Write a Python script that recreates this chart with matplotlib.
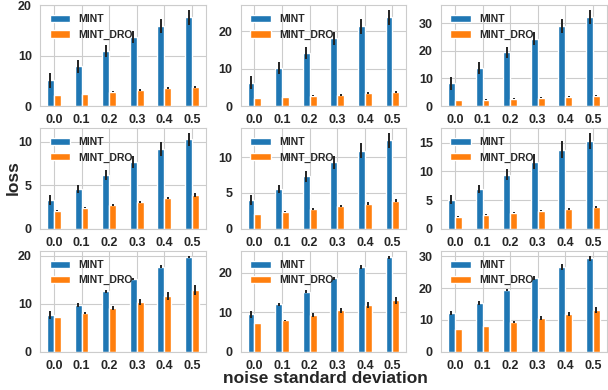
import numpy as np
import matplotlib
matplotlib.use("Agg")
from matplotlib import pyplot as plt
import seaborn as sns

# x categories (noise standard deviation)
noise_levels = ["0.0", "0.1", "0.2", "0.3", "0.4", "0.5"]
series_names = ["MINT", "MINT_DRO"]

# mean loss per panel (row-major order)
mint_mean = [
    [5.1, 7.9, 10.9, 13.7, 15.85, 17.6],
    [6.2, 10.2, 14.2, 18.1, 21.3, 23.7],
    [8.3, 13.7, 19.5, 24.4, 29.0, 32.3],
    [3.35, 4.6, 6.2, 7.7, 9.16, 10.3],
    [4.05, 5.55, 7.35, 9.27, 10.9, 12.3],
    [5.1, 7.0, 9.4, 11.7, 13.75, 15.3],
    [7.7, 9.8, 12.6, 15.2, 17.8, 19.8],
    [9.45, 12.0, 15.2, 18.5, 21.5, 23.8],
    [12.15, 15.3, 19.4, 23.1, 26.6, 29.4],
]
mint_err = [
    [1.45, 1.25, 1.15, 1.25, 1.45, 1.45],
    [1.75, 1.6, 1.6, 1.7, 2.0, 2.0],
    [2.3, 2.1, 2.0, 2.3, 2.6, 2.5],
    [0.55, 0.48, 0.6, 0.7, 0.76, 0.74],
    [0.66, 0.57, 0.76, 0.94, 1.05, 1.08],
    [0.75, 0.72, 0.95, 1.24, 1.45, 1.42],
    [0.8, 0.45, 0.4, 0.3, 0.4, 0.3],
    [0.84, 0.4, 0.3, 0.4, 0.5, 0.5],
    [0.7, 0.5, 0.35, 0.6, 0.9, 0.8],
]
dro_mean = [
    [2.24, 2.43, 2.83, 3.22, 3.62, 3.82],
    [2.2, 2.5, 2.75, 3.0, 3.55, 3.8],
    [2.26, 2.3, 2.7, 3.1, 3.45, 3.8],
    [2.09, 2.43, 2.78, 3.12, 3.57, 3.92],
    [2.11, 2.39, 2.8, 3.21, 3.49, 3.9],
    [2.14, 2.49, 2.83, 3.18, 3.53, 3.87],
    [7.27, 8.1, 9.16, 10.4, 11.7, 12.9],
    [7.28, 7.95, 9.2, 10.46, 11.7, 13.0],
    [7.1, 8.06, 9.3, 10.6, 11.8, 13.1],
]
dro_err = [
    [0.05, 0.05, 0.1, 0.15, 0.15, 0.2],
    [0.05, 0.05, 0.1, 0.2, 0.2, 0.2],
    [0.05, 0.2, 0.2, 0.25, 0.25, 0.2],
    [0.05, 0.05, 0.1, 0.1, 0.15, 0.2],
    [0.03, 0.05, 0.1, 0.15, 0.2, 0.2],
    [0.03, 0.05, 0.05, 0.1, 0.15, 0.2],
    [0.05, 0.2, 0.45, 0.55, 0.85, 1.05],
    [0.05, 0.15, 0.5, 0.6, 0.75, 0.9],
    [0.05, 0.1, 0.3, 0.5, 0.7, 0.8],
]

sns.set_style("whitegrid")
plt.rcParams["font.family"] = ["Liberation Sans", "DejaVu Sans"]
plt.rcParams["font.weight"] = "bold"

fig, axes = plt.subplots(3, 3, figsize=(6.08, 3.9), dpi=100)
fig.subplots_adjust(left=0.066, right=0.998, top=0.987, bottom=0.098,
                    wspace=0.21, hspace=0.215)

x = np.arange(len(noise_levels))
w = 0.25
for i, ax in enumerate(axes.flat):
    ax.bar(x - w / 2, mint_mean[i], w, yerr=mint_err[i], color="#1f77b4",
           ecolor="#222222", error_kw=dict(lw=1.4), label=series_names[0], zorder=2)
    ax.bar(x + w / 2, dro_mean[i], w, yerr=dro_err[i], color="#ff7f0e",
           ecolor="#222222", error_kw=dict(lw=1.4), label=series_names[1], zorder=2)
    ax.set_xlim(-0.5, len(noise_levels) - 0.5)
    ax.set_xticks(x)
    ax.set_xticklabels(noise_levels)
    ax.tick_params(labelsize=9, pad=2.5)
    ax.set_axisbelow(True)
    ax.legend(loc="upper left", frameon=False, fontsize=7.5)

fig.text(0.022, 0.544, "loss", rotation=90, fontsize=12.5, fontweight="bold",
         ha="center", va="center")
fig.text(0.535, 0.03, "noise standard deviation", fontsize=12.5,
         fontweight="bold", ha="center", va="center")

fig.savefig("out.png", dpi=100)
